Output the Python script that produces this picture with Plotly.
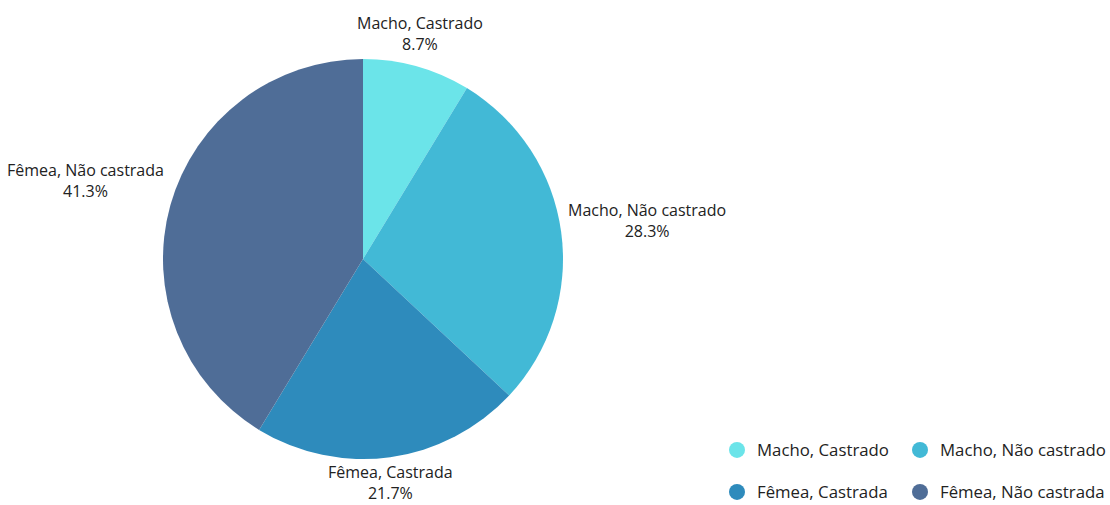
import math
import plotly.graph_objects as go

categories = ["Macho, Castrado", "Macho, Não castrado", "Fêmea, Castrada", "Fêmea, Não castrada"]
counts = [4, 13, 10, 19]
colors = ["#6be4e9", "#42b9d6", "#2e8bbc", "#4f6d97"]

W, H = 1110, 505
cx, cy, r = 363, 259, 200

fig = go.Figure()
fig.add_trace(go.Pie(
    labels=categories, values=counts, sort=False, direction="clockwise", rotation=0,
    marker=dict(colors=colors, line=dict(width=0)),
    textposition="none",
    showlegend=False, automargin=False, hoverinfo="label+percent",
    domain=dict(x=[(cx - r) / W, (cx + r) / W], y=[1 - (cy + r) / H, 1 - (cy - r) / H]),
))

# outside labels placed along each slice's mid-angle (computed from the values)
total = sum(counts)
cum = 0
for name, v in zip(categories, counts):
    mid = (cum + v / 2) / total * 2 * math.pi
    cum += v
    s, c = math.sin(mid), math.cos(mid)
    if c > 0.5:
        R = r + 10
    elif c < -0.5:
        R = r + 2
    else:
        R = r + 5
    px, py = cx + R * s, cy - R * c
    if s > 0.5:
        xa, ya, ysh = "left", "bottom", -13
    elif s < -0.5:
        xa, ya, ysh = "right", "bottom", 0
    else:
        xa = "center"
        ya, ysh = ("bottom", 0) if c > 0 else ("top", 0)
    fig.add_annotation(
        x=px / W, y=1 - py / H, xref="paper", yref="paper",
        xanchor=xa, yanchor=ya, yshift=ysh, showarrow=False, align="center",
        text=f"{name}<br>{v / total * 100:.1f}%",
        font=dict(family="Open Sans", size=16, color="#222222"),
    )

legend_ids = ["legend", "legend2", "legend3", "legend4"]
for name, col, lg in zip(categories, colors, legend_ids):
    fig.add_trace(go.Scatter(
        x=[None], y=[None], mode="markers", name=name,
        marker=dict(color=col, size=16, symbol="circle"),
        legend=lg, showlegend=True,
    ))

leg_common = dict(orientation="h", xref="paper", yref="paper", xanchor="left", yanchor="middle",
                  font=dict(family="Open Sans", size=16.8, color="#222222"),
                  bgcolor="rgba(0,0,0,0)", itemclick=False)
col_x = [717, 900]
row_y = [450, 492]
legend_layout = {}
for i, lg in enumerate(legend_ids):
    legend_layout[lg] = dict(x=col_x[i % 2] / W, y=1 - row_y[i // 2] / H, **leg_common)

fig.update_layout(
    width=W, height=H,
    margin=dict(l=0, r=0, t=0, b=0, autoexpand=False),
    paper_bgcolor="white", plot_bgcolor="white",
    xaxis=dict(visible=False), yaxis=dict(visible=False),
    **legend_layout,
)

fig.write_html("out.html")
